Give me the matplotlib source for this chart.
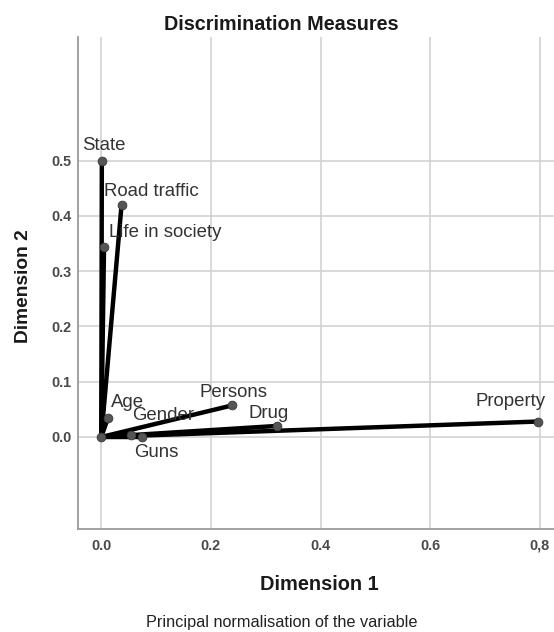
import matplotlib
matplotlib.use("Agg")
import matplotlib.pyplot as plt

# ---- data ----
variables = ["State", "Road traffic", "Life in society", "Age", "Gender",
             "Guns", "Persons", "Drug", "Property"]
dim1 = [0.001, 0.037, 0.005, 0.012, 0.055, 0.074, 0.238, 0.320, 0.797]
dim2 = [0.500, 0.420, 0.344, 0.034, 0.004, 0.000, 0.057, 0.020, 0.028]
xtick_vals = [0.0, 0.2, 0.4, 0.6, 0.8]
xtick_labels = ["0.0", "0.2", "0.4", "0.6", "0,8"]
ytick_vals = [0.0, 0.1, 0.2, 0.3, 0.4, 0.5]
ytick_labels = ["0.0", "0.1", "0.2", "0.3", "0.4", "0.5"]
title = "Discrimination Measures"
xlabel = "Dimension 1"
ylabel = "Dimension 2"
note = "Principal normalisation of the variable"

# label offsets (pixels) - layout only
label_offsets = {
    "State": (2, 15), "Road traffic": (30, 13), "Life in society": (61, 14),
    "Age": (20, 16), "Gender": (32, 19), "Guns": (14, -16),
    "Persons": (2, 13), "Drug": (-8, 12), "Property": (-28, 20),
}

plt.rcParams['font.family'] = ['Liberation Sans', 'DejaVu Sans']

W, H = 554, 632
fig = plt.figure(figsize=(W / 100, H / 100), dpi=100)
ax = fig.add_axes([77.5 / W, (H - 529) / H, 1 - 77.5 / W, (529 - 36.7) / H])
ax.set_xlim(-0.0434, 0.826)
ax.set_ylim(-0.1665, 0.7244)

grid_c = "#d2d2d2"
for xv in xtick_vals:
    ax.axvline(xv, color=grid_c, lw=1.2, zorder=0)
for yv in ytick_vals:
    ax.axhline(yv, color=grid_c, lw=1.2, zorder=0)

for x, y in zip(dim1, dim2):
    ax.plot([0, x], [0, y], color="black", lw=3.2, solid_capstyle="round", zorder=2)
ax.scatter(dim1 + [0.0], dim2 + [0.0], s=40, color="#555555", zorder=3,
           edgecolors="#3a3a3a", linewidths=0.6)

for name, x, y in zip(variables, dim1, dim2):
    dx, dy = label_offsets[name]
    ax.annotate(name, (x, y), xytext=(dx, dy), textcoords="offset pixels",
                ha="center", va="center", fontsize=13.4, color="#333333", zorder=4)

ax.set_xticks(xtick_vals)
ax.set_xticklabels(xtick_labels)
ax.set_yticks(ytick_vals)
ax.set_yticklabels(ytick_labels)
ax.tick_params(length=0, labelsize=10.4, labelcolor="#4a4a4a")
ax.tick_params(axis="x", pad=7)
ax.tick_params(axis="y", pad=4)
for lbl in ax.get_xticklabels() + ax.get_yticklabels():
    lbl.set_fontweight("bold")

for s in ["top", "right"]:
    ax.spines[s].set_visible(False)
for s in ["left", "bottom"]:
    ax.spines[s].set_color("#9a9a9a")
    ax.spines[s].set_linewidth(1.3)

fig.text(281.7 / W, 1 - 24 / H, title, ha="center", va="center",
         fontsize=14.2, fontweight="bold", color="#1a1a1a")
fig.text(319 / W, 1 - 585 / H, xlabel, ha="center", va="center",
         fontsize=14.4, fontweight="bold", color="#1a1a1a")
fig.text(24 / W, 1 - 286 / H, ylabel, ha="center", va="center", rotation=90,
         fontsize=13.8, fontweight="bold", color="#1a1a1a")
fig.text(282 / W, 1 - 623 / H, note, ha="center", va="center",
         fontsize=11.7, color="#222222")

fig.savefig("out.png", dpi=100)
